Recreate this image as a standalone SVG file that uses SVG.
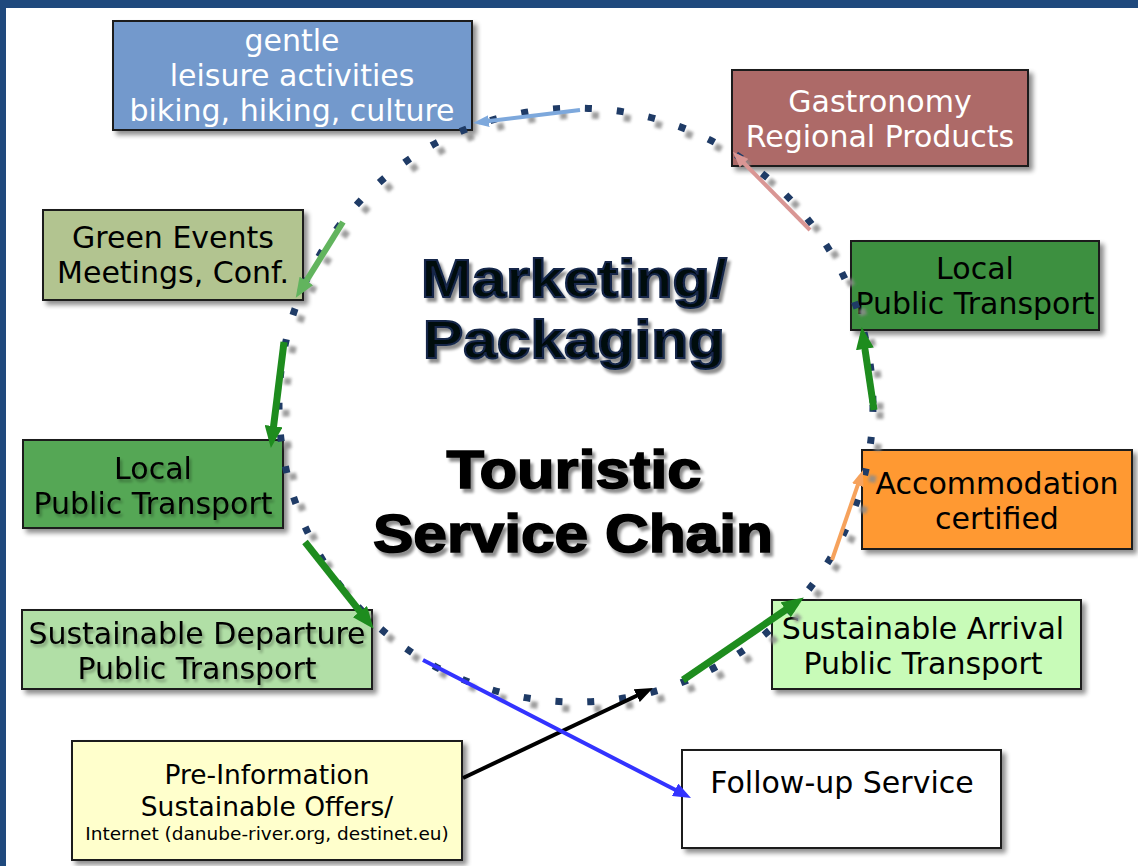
<svg xmlns="http://www.w3.org/2000/svg" width="1138" height="866" viewBox="0 0 1138 866">
<style>
.box{stroke:#1a1a1a;stroke-width:2;filter:url(#bshadow)}
.t{font-family:"DejaVu Sans","Verdana",sans-serif;font-size:30px;text-anchor:middle}
.w{fill:#ffffff}
.k{fill:#000000}
.big{font-family:"Liberation Sans","Arial",sans-serif;font-weight:bold;font-size:54px;text-anchor:middle}
.arr{fill:none;stroke-linecap:butt}
</style>
<defs>
<filter id="bshadow" x="-10%" y="-10%" width="125%" height="130%">
<feGaussianBlur in="SourceAlpha" stdDeviation="2.5"/>
<feOffset dx="4" dy="4" result="o"/>
<feComponentTransfer><feFuncA type="linear" slope="0.45"/></feComponentTransfer>
<feMerge><feMergeNode/><feMergeNode in="SourceGraphic"/></feMerge>
</filter>
<filter id="tshadow" x="-10%" y="-20%" width="125%" height="150%">
<feGaussianBlur in="SourceAlpha" stdDeviation="1.8"/>
<feOffset dx="3" dy="4" result="o"/>
<feComponentTransfer><feFuncA type="linear" slope="0.45"/></feComponentTransfer>
<feMerge><feMergeNode/><feMergeNode in="SourceGraphic"/></feMerge>
</filter>
<filter id="soft" x="-10%" y="-30%" width="125%" height="160%">
<feGaussianBlur in="SourceAlpha" stdDeviation="1.5"/>
<feOffset dx="2" dy="3" result="o"/>
<feComponentTransfer><feFuncA type="linear" slope="0.3"/></feComponentTransfer>
<feMerge><feMergeNode/><feMergeNode in="SourceGraphic"/></feMerge>
</filter>
<filter id="blur1" x="-5%" y="-5%" width="110%" height="110%"><feGaussianBlur stdDeviation="1.6"/></filter>
<marker id="mGreen" markerUnits="userSpaceOnUse" markerWidth="22" markerHeight="18" refX="13" refY="9" orient="auto"><path d="M0,0 L22,9 L0,18 z" fill="#1E8C1E"/></marker>
<marker id="mLGreen" markerUnits="userSpaceOnUse" markerWidth="20" markerHeight="16" refX="12" refY="8" orient="auto"><path d="M0,0 L20,8 L0,16 z" fill="#62B45E"/></marker>
<marker id="mLBlue" markerUnits="userSpaceOnUse" markerWidth="16" markerHeight="12" refX="10" refY="6" orient="auto"><path d="M0,0 L16,6 L0,12 z" fill="#7DA8DC"/></marker>
<marker id="mPink" markerUnits="userSpaceOnUse" markerWidth="16" markerHeight="12" refX="10" refY="6" orient="auto"><path d="M0,0 L16,6 L0,12 z" fill="#D99694"/></marker>
<marker id="mOrange" markerUnits="userSpaceOnUse" markerWidth="16" markerHeight="12" refX="10" refY="6" orient="auto"><path d="M0,0 L16,6 L0,12 z" fill="#F6A25C"/></marker>
<marker id="mBlack" markerUnits="userSpaceOnUse" markerWidth="18" markerHeight="14" refX="11" refY="7" orient="auto"><path d="M0,0 L18,7 L0,14 z" fill="#000000"/></marker>
<marker id="mBlue" markerUnits="userSpaceOnUse" markerWidth="18" markerHeight="14" refX="11" refY="7" orient="auto"><path d="M0,0 L18,7 L0,14 z" fill="#3333FF"/></marker>
</defs>

<rect x="0" y="0" width="1138" height="866" fill="#ffffff"/>
<rect x="0" y="0" width="1138" height="8" fill="#1F497D"/>
<rect x="0" y="0" width="6" height="866" fill="#1F497D"/>

<g id="center-title">
<text class="big" x="574" y="297" textLength="306" lengthAdjust="spacingAndGlyphs" fill="#03070F" stroke="#13284A" stroke-width="2" filter="url(#tshadow)">Marketing/</text>
<text class="big" x="574" y="358" textLength="302" lengthAdjust="spacingAndGlyphs" fill="#03070F" stroke="#13284A" stroke-width="2" filter="url(#tshadow)">Packaging</text>
<text class="big" x="574" y="488" textLength="255" lengthAdjust="spacingAndGlyphs" fill="#000000" stroke="#000000" stroke-width="1.6" filter="url(#tshadow)">Touristic</text>
<text class="big" x="573" y="552" textLength="400" lengthAdjust="spacingAndGlyphs" fill="#000000" stroke="#000000" stroke-width="1.6" filter="url(#tshadow)">Service Chain</text>
</g>

<g id="leisure">
<rect class="box" x="113" y="21" width="359" height="109" fill="#7399CC"/>
<text class="t w" x="292" y="51">gentle</text>
<text class="t w" x="292" y="86">leisure activities</text>
<text class="t w" x="292" y="121">biking, hiking, culture</text>
</g>

<g id="gastronomy">
<rect class="box" x="732" y="70" width="296" height="96" fill="#AD6A67"/>
<text class="t w" x="880" y="112">Gastronomy</text>
<text class="t w" x="880" y="147">Regional Products</text>
</g>

<g id="green-events">
<rect class="box" x="43" y="210" width="260" height="90" fill="#B2C490"/>
<text class="t k" x="173" y="248">Green Events</text>
<text class="t k" x="173" y="283">Meetings, Conf.</text>
</g>

<g id="local-transport-right">
<rect class="box" x="851" y="241" width="248" height="89" fill="#3C9040"/>
<text class="t k" x="975" y="279">Local</text>
<text class="t k" x="975" y="314">Public Transport</text>
</g>

<g id="local-transport-left">
<rect class="box" x="23" y="440" width="260" height="88" fill="#54A754"/>
<text class="t k" x="153" y="479" filter="url(#soft)">Local</text>
<text class="t k" x="153" y="514" filter="url(#soft)">Public Transport</text>
</g>

<g id="accommodation">
<rect class="box" x="862" y="450" width="270" height="99" fill="#FF9933"/>
<text class="t k" x="997" y="494">Accommodation</text>
<text class="t k" x="997" y="529">certified</text>
</g>

<g id="departure">
<rect class="box" x="22" y="610" width="350" height="79" fill="#B1DFA6"/>
<text class="t k" x="197" y="644" filter="url(#soft)">Sustainable Departure</text>
<text class="t k" x="197" y="679" filter="url(#soft)">Public Transport</text>
</g>

<g id="arrival">
<rect class="box" x="772" y="600" width="309" height="89" fill="#C8FBB8"/>
<text class="t k" x="923" y="639">Sustainable Arrival</text>
<text class="t k" x="923" y="674">Public Transport</text>
</g>

<g id="pre-information">
<rect class="box" x="72" y="741" width="390" height="119" fill="#FFFFCC"/>
<text class="t k" x="267" y="784" style="font-size:26.5px">Pre-Information</text>
<text class="t k" x="267" y="816" style="font-size:26.5px">Sustainable Offers/</text>
<text class="t k" x="267" y="840" style="font-size:18.5px">Internet (danube-river.org, destinet.eu)</text>
</g>

<g id="follow-up">
<rect class="box" x="682" y="750" width="319" height="98" fill="#ffffff"/>
<text class="t k" x="842" y="793">Follow-up Service</text>
</g>

<g id="chain-circle">
<circle cx="583" cy="412" r="297" fill="none" stroke="#8c8c8c" stroke-width="7" stroke-dasharray="7 25" filter="url(#blur1)" opacity="0.85"/>
<circle cx="576" cy="405" r="297" fill="none" stroke="#1F3B66" stroke-width="7" stroke-dasharray="7 25"/>
</g>

<g id="connectors">
<line class="arr" x1="580" y1="110" x2="479" y2="122.3" stroke="#7DA8DC" stroke-width="4" marker-end="url(#mLBlue)"/>
<line class="arr" x1="810" y1="230" x2="737" y2="156" stroke="#D99694" stroke-width="4" marker-end="url(#mPink)"/>
<line class="arr" x1="343" y1="222" x2="300" y2="291" stroke="#62B45E" stroke-width="6" marker-end="url(#mLGreen)"/>
<line class="arr" x1="284" y1="342" x2="272" y2="439" stroke="#1E8C1E" stroke-width="7" marker-end="url(#mGreen)"/>
<line class="arr" x1="874" y1="410" x2="863" y2="336" stroke="#1E8C1E" stroke-width="7" marker-end="url(#mGreen)"/>
<line class="arr" x1="305" y1="542" x2="368" y2="621.7" stroke="#1E8C1E" stroke-width="7" marker-end="url(#mGreen)"/>
<line class="arr" x1="683" y1="680" x2="796.4" y2="602.5" stroke="#1E8C1E" stroke-width="7" marker-end="url(#mGreen)"/>
<line class="arr" x1="832" y1="560" x2="861" y2="475.7" stroke="#F6A25C" stroke-width="4" marker-end="url(#mOrange)"/>
<line class="arr" x1="463" y1="778" x2="646.7" y2="691" stroke="#000000" stroke-width="4" marker-end="url(#mBlack)"/>
<line class="arr" x1="423" y1="660" x2="684.8" y2="794.8" stroke="#3333FF" stroke-width="4" marker-end="url(#mBlue)"/>
</g>
</svg>
